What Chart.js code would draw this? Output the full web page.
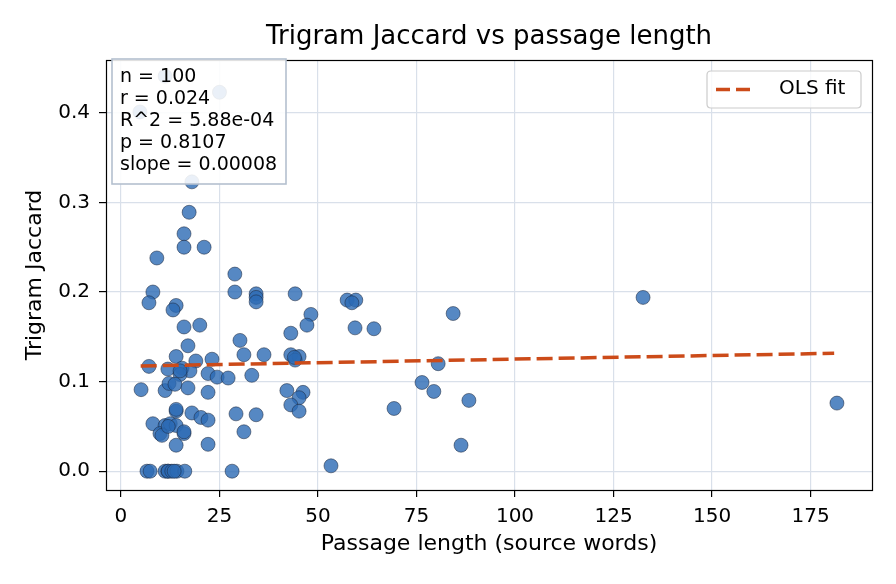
<!DOCTYPE html>
<html>
<head>
<meta charset="utf-8">
<script src="https://cdn.jsdelivr.net/npm/chart.js@4.4.1/dist/chart.umd.min.js"></script>
<style>
  html, body { margin: 0; padding: 0; background: #ffffff; }
  #wrap { width: 896px; height: 584px; }
</style>
</head>
<body>
<div id="wrap"><canvas id="c" width="896" height="584"></canvas></div>
<script>
// ---- data ----
const passageLength = [
  4.8, 11.2, 25.0, 18.0, 17.3, 16.0, 16.0, 21.1, 9.1, 28.9,
  28.9, 8.1, 7.1, 14.0, 13.2, 34.3, 34.3, 34.3, 44.2, 57.4,
  59.6, 58.6, 132.5, 84.3, 48.2, 47.2, 43.1, 59.4, 64.2, 16.0,
  20.0, 30.2, 17.0, 14.0, 19.0, 23.1, 31.2, 36.3, 43.1, 45.2,
  44.2, 80.5, 7.1, 11.9, 15.5, 17.5, 15.0, 22.1, 24.4, 27.2,
  33.2, 76.4, 5.1, 11.2, 12.2, 13.7, 17.0, 22.1, 42.1, 46.2,
  79.4, 88.3, 45.2, 43.1, 45.2, 69.3, 181.7, 14.0, 14.0, 18.0,
  20.3, 22.1, 29.2, 34.3, 8.1, 11.2, 12.5, 14.0, 9.9, 10.4,
  16.0, 16.0, 31.2, 14.0, 22.1, 86.3, 53.3, 6.6, 7.4, 11.2,
  11.9, 12.0, 12.9, 14.2, 16.2, 28.2, 15.0, 12.0, 13.5, 44.0
];
const trigramJaccard = [
  0.401, 0.441, 0.423, 0.323, 0.289, 0.265, 0.250, 0.250, 0.238, 0.220,
  0.200, 0.200, 0.188, 0.185, 0.180, 0.198, 0.194, 0.189, 0.198, 0.191,
  0.191, 0.188, 0.194, 0.176, 0.175, 0.163, 0.154, 0.160, 0.159, 0.161,
  0.163, 0.146, 0.140, 0.128, 0.123, 0.125, 0.130, 0.130, 0.130, 0.128,
  0.124, 0.120, 0.117, 0.114, 0.115, 0.112, 0.108, 0.109, 0.105, 0.104,
  0.107, 0.099, 0.091, 0.090, 0.098, 0.097, 0.093, 0.088, 0.090, 0.088,
  0.089, 0.079, 0.082, 0.074, 0.067, 0.070, 0.076, 0.067, 0.069, 0.065,
  0.060, 0.057, 0.064, 0.063, 0.053, 0.051, 0.053, 0.051, 0.042, 0.040,
  0.042, 0.044, 0.044, 0.029, 0.030, 0.029, 0.006, 0.000, 0.000, 0.000,
  0.000, 0.000, 0.000, 0.000, 0.000, 0.000, 0.112, 0.050, 0.000, 0.127
];
const fitX = [5.0, 181.0];
const fitY = [0.1175, 0.1316];
const xTicks = [0, 25, 50, 75, 100, 125, 150, 175];
const yTicks = [0.0, 0.1, 0.2, 0.3, 0.4];
const statLines = ["n = 100", "r = 0.024", "R^2 = 5.88e-04", "p = 0.8107", "slope = 0.00008"];
const legendLabel = "OLS fit";
const chartTitle = "Trigram Jaccard vs passage length";

const FONT = "'DejaVu Sans', sans-serif";
const fitColor = "#cc4b19";

const scatterData = passageLength.map((x, i) => ({ x: x, y: trigramJaccard[i] }));
const fitData = fitX.map((x, i) => ({ x: x, y: fitY[i] }));

const framePlugin = {
  id: 'frame',
  afterDraw(chart) {
    const ctx = chart.ctx;
    const a = chart.chartArea;
    ctx.save();
    // axes frame
    ctx.strokeStyle = '#000';
    ctx.lineWidth = 1.2;
    ctx.strokeRect(Math.round(a.left) + 0.5, Math.round(a.top) + 0.5,
                   Math.round(a.right - a.left), Math.round(a.bottom - a.top));

    // title centred over the plot area
    ctx.fillStyle = '#000';
    ctx.font = "26px " + FONT;
    ctx.textAlign = 'center';
    ctx.textBaseline = 'middle';
    ctx.fillText(chartTitle, (a.left + a.right) / 2, 37);

    // stats box (top-left)
    const bx = 112, by = 59, bw = 174, bh = 125;
    ctx.fillStyle = 'rgba(255,255,255,0.88)';
    ctx.strokeStyle = '#b4c0cf';
    ctx.lineWidth = 1.6;
    ctx.fillRect(bx, by, bw, bh);
    ctx.strokeRect(bx, by, bw, bh);
    ctx.fillStyle = '#000';
    ctx.font = "19px " + FONT;
    ctx.textBaseline = 'middle';
    ctx.textAlign = 'left';
    statLines.forEach((t, i) => ctx.fillText(t, 120, 77 + i * 22));

    // legend (top-right)
    const lx = 707, ly = 71, lw = 154, lh = 37, r = 4;
    ctx.beginPath();
    ctx.moveTo(lx + r, ly);
    ctx.lineTo(lx + lw - r, ly);
    ctx.quadraticCurveTo(lx + lw, ly, lx + lw, ly + r);
    ctx.lineTo(lx + lw, ly + lh - r);
    ctx.quadraticCurveTo(lx + lw, ly + lh, lx + lw - r, ly + lh);
    ctx.lineTo(lx + r, ly + lh);
    ctx.quadraticCurveTo(lx, ly + lh, lx, ly + lh - r);
    ctx.lineTo(lx, ly + r);
    ctx.quadraticCurveTo(lx, ly, lx + r, ly);
    ctx.closePath();
    ctx.fillStyle = 'rgba(255,255,255,0.8)';
    ctx.fill();
    ctx.strokeStyle = '#cccccc';
    ctx.lineWidth = 1.2;
    ctx.stroke();
    ctx.beginPath();
    ctx.setLineDash([14, 6]);
    ctx.strokeStyle = fitColor;
    ctx.lineWidth = 3.5;
    ctx.moveTo(716, 89.5);
    ctx.lineTo(755, 89.5);
    ctx.stroke();
    ctx.setLineDash([]);
    ctx.fillStyle = '#000';
    ctx.font = "20px " + FONT;
    ctx.fillText(legendLabel, 779, 89);
    ctx.restore();
  }
};

new Chart(document.getElementById('c'), {
  data: {
    datasets: [
      {
        type: 'line',
        label: legendLabel,
        data: fitData,
        borderColor: fitColor,
        borderWidth: 3.5,
        borderDash: [16, 6],
        pointRadius: 0,
        fill: false,
        order: 0
      },
      {
        type: 'scatter',
        label: 'passages',
        data: scatterData,
        backgroundColor: 'rgba(44,106,180,0.8)',
        borderColor: 'rgba(25,35,55,0.85)',
        borderWidth: 0.6,
        pointRadius: 7,
        pointHoverRadius: 7,
        order: 1
      }
    ]
  },
  options: {
    responsive: false,
    animation: false,
    devicePixelRatio: 1,
    layout: { padding: { left: 10, right: 24, top: 60, bottom: 0 } },
    plugins: {
      legend: { display: false },
      tooltip: { enabled: false },
      title: { display: false }
    },
    scales: {
      x: {
        type: 'linear',
        min: -3.8,
        max: 190.6,
        z: 1,
        afterFit(scale) { scale.height = 94; },
        afterBuildTicks(scale) { scale.ticks = xTicks.map(v => ({ value: v })); },
        grid: { color: '#d9e0ea', lineWidth: 1.2, tickColor: '#000', tickLength: 7, drawTicks: true },
        border: { display: false },
        ticks: {
          color: '#000', font: { family: FONT, size: 20 }, padding: 8,
          maxRotation: 0, autoSkip: false,
          callback: v => String(v)
        },
        title: {
          display: true, text: 'Passage length (source words)', color: '#000',
          font: { family: FONT, size: 22 }, padding: { top: 0, bottom: 27 }
        }
      },
      y: {
        type: 'linear',
        min: -0.021,
        max: 0.459,
        z: 1,
        afterFit(scale) { scale.width = 96; },
        afterBuildTicks(scale) { scale.ticks = yTicks.map(v => ({ value: v })); },
        grid: { color: '#d9e0ea', lineWidth: 1.2, tickColor: '#000', tickLength: 7, drawTicks: true },
        border: { display: false },
        ticks: {
          color: '#000', font: { family: FONT, size: 20 }, padding: 9,
          autoSkip: false,
          callback: v => Number(v).toFixed(1)
        },
        title: {
          display: true, text: 'Trigram Jaccard', color: '#000',
          font: { family: FONT, size: 22 }, padding: { top: 12, bottom: 0 }
        }
      }
    }
  },
  plugins: [framePlugin]
});
</script>
</body>
</html>
